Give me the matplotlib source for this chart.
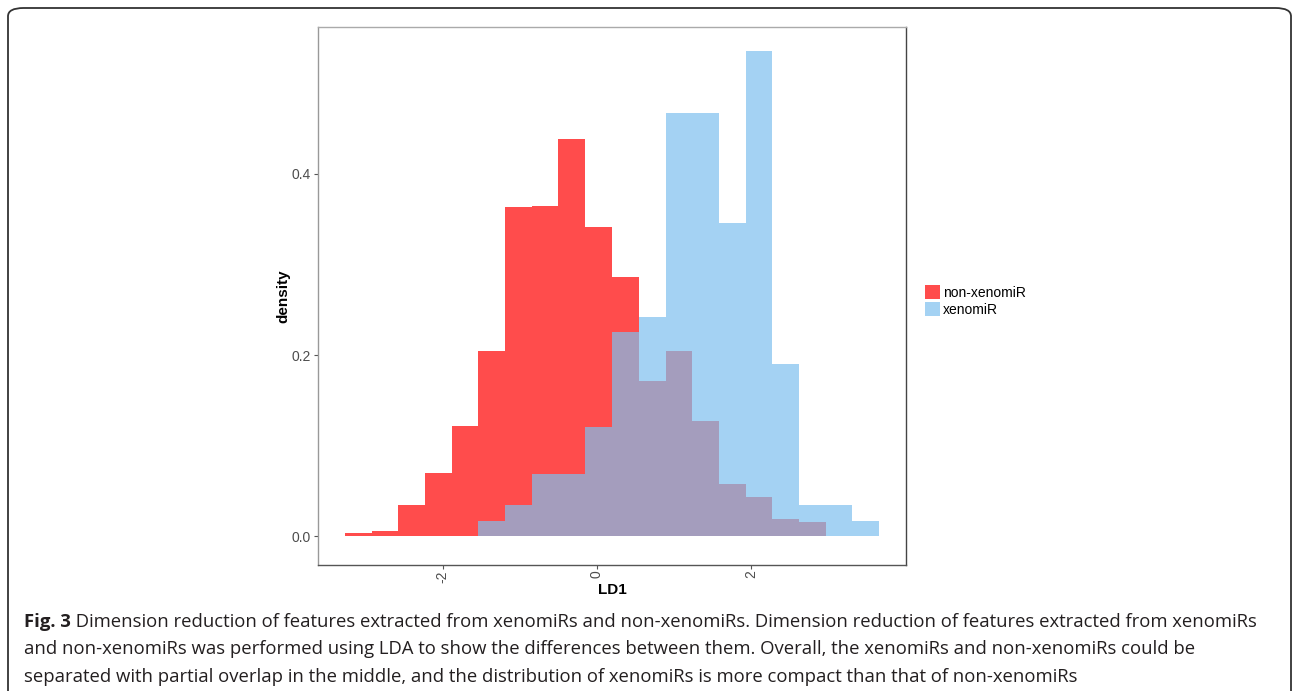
import matplotlib.pyplot as plt
from matplotlib.patches import Patch, FancyBboxPatch

# histogram bins (LD1) and densities
bin_edges = [-3.27, -2.92, -2.58, -2.23, -1.88, -1.54, -1.19, -0.84, -0.50, -0.15,
             0.19, 0.54, 0.89, 1.23, 1.58, 1.93, 2.27, 2.62, 2.97, 3.31, 3.66]
non_xeno = [0.003, 0.006, 0.034, 0.070, 0.122, 0.204, 0.363, 0.365, 0.439, 0.341,
            0.286, 0.171, 0.204, 0.127, 0.058, 0.043, 0.0185, 0.015, 0.0, 0.0]
xeno = [0.0, 0.0, 0.0, 0.0, 0.0, 0.017, 0.034, 0.069, 0.069, 0.121,
        0.225, 0.242, 0.467, 0.467, 0.346, 0.536, 0.190, 0.034, 0.034, 0.017]
group_labels = ['non-xenomiR', 'xenomiR']
group_colors = ['#FF0000', '#7EC0EE']

x_ticks = [-2, 0, 2]
y_ticks = [0.0, 0.2, 0.4]

caption_bold = 'Fig. 3'
caption_lines = [
    ' Dimension reduction of features extracted from xenomiRs and non-xenomiRs. '
    'Dimension reduction of features extracted from xenomiRs',
    'and non-xenomiRs was performed using LDA to show the differences between them. '
    'Overall, the xenomiRs and non-xenomiRs could be',
    'separated with partial overlap in the middle, and the distribution of xenomiRs '
    'is more compact than that of non-xenomiRs',
]

W, H = 1293, 691
fig = plt.figure(figsize=(W / 100, H / 100), dpi=100)

# outer journal frame (bottom edge runs off the image)
frame = FancyBboxPatch((8 / W, 1 - 705 / H), 1283 / W, 697 / H,
                       boxstyle='round,pad=0,rounding_size=0.012',
                       transform=fig.transFigure, fill=False,
                       edgecolor='#333333', linewidth=1.3)
fig.patches.append(frame)

ax = fig.add_axes([318 / W, 1 - 565 / H, 588 / W, 538 / H])

lefts = bin_edges[:-1]
widths = [b - a for a, b in zip(bin_edges[:-1], bin_edges[1:])]
for vals, col in zip([non_xeno, xeno], group_colors):
    ax.bar(lefts, vals, width=widths, align='edge', color=col, alpha=0.7,
           linewidth=0)

ax.set_xlim(-3.62, 4.01)
ax.set_ylim(-0.032, 0.5624)
ax.set_xticks(x_ticks)
ax.set_xticklabels([str(t) for t in x_ticks], rotation=90)
ax.set_yticks(y_ticks)
ax.set_yticklabels([f'{t:.1f}' for t in y_ticks])
ax.tick_params(length=3, width=0.8, color='#555555', labelcolor='#4D4D4D',
               labelsize=10, pad=2)
ax.tick_params(axis='x', pad=1)
for lab in ax.get_xticklabels() + ax.get_yticklabels():
    lab.set_family('Liberation Sans')

ax.spines['top'].set_color('#AAAAAA')
ax.spines['left'].set_color('#999999')
ax.spines['bottom'].set_color('#555555')
ax.spines['right'].set_color('#444444')
for s in ax.spines.values():
    s.set_linewidth(1.0)

ax.set_xlabel('LD1', fontsize=11, fontweight='bold', family='Liberation Sans',
              labelpad=0)
ax.set_ylabel('density', fontsize=11, fontweight='bold', family='Liberation Sans',
              labelpad=1)

handles = [Patch(facecolor=c, alpha=0.7, linewidth=0) for c in group_colors]
fig.legend(handles, group_labels, loc='center left',
           bbox_to_anchor=(912 / W, 1 - 301 / H), frameon=False,
           prop={'family': 'Liberation Sans', 'size': 10},
           handlelength=1.1, handleheight=1.15, handletextpad=0.25,
           labelspacing=0.15)

# caption
cap_font = 'Open Sans'
cap_size = 13.3
y0 = 622
t = fig.text(24 / W, 1 - y0 / H, caption_bold, fontsize=cap_size, fontweight='bold',
             family=cap_font, va='center', ha='left', color='#231F20')
fig.canvas.draw()
bb = t.get_window_extent()
fig.text(bb.x1 / W, 1 - y0 / H, caption_lines[0], fontsize=cap_size, family=cap_font,
         va='center', ha='left', color='#231F20')
for i, line in enumerate(caption_lines[1:]):
    fig.text(24 / W, 1 - (y0 + 27.5 * (i + 1)) / H, line, fontsize=cap_size,
             family=cap_font, va='center', ha='left', color='#231F20')

fig.savefig('out.png', dpi=100)
